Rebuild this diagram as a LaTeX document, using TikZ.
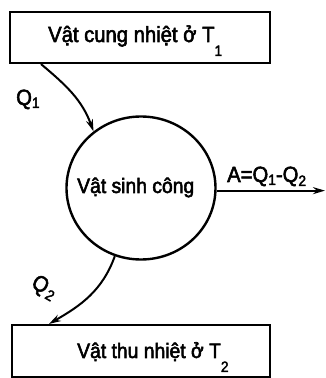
\documentclass[tikz,border=0pt]{standalone}
\usepackage{fontspec}
\setmainfont{Liberation Sans}[FakeStretch=0.92,FakeBold=2.5]
\usetikzlibrary{arrows.meta,shapes.geometric}
\newcommand{\sbx}[2][-14pt]{\raisebox{#1}{\fontsize{15}{15}\selectfont #2}}
\begin{document}
\begin{tikzpicture}[x=1pt,y=1pt]
\tikzset{
 boxst/.style={draw, line width=2.1pt, inner sep=0pt},
 txt/.style={font=\fontsize{22}{22}\selectfont, inner sep=0pt, anchor=base west},
 arr/.style={line width=2pt, -{Stealth[length=12pt,width=7pt]}},
}
\useasboundingbox (0,0) rectangle (325,378);
\node[boxst, minimum width=260pt, minimum height=51pt] (top) at (140,340.5) {};
\node[txt] (toptext) at (48,336) {Vật cung nhiệt ở T\sbx{1}};
\node[boxst, minimum width=258pt, minimum height=52pt] (bot) at (141,27) {};
\node[txt, font=\fontsize{21}{21}\selectfont] (bottext) at (77,20) {Vật thu nhiệt ở T\sbx{2}};
\node[draw, ellipse, line width=2.4pt, minimum width=149pt, minimum height=143pt, inner sep=0pt] (c) at (141,190) {};
\node[txt, font=\fontsize{21}{21}\selectfont] (ctext) at (77,185) {Vật sinh công};
\coordinate (q1s) at ([xshift=32pt]top.south west);
\coordinate (q2e) at ([xshift=38pt]bot.north west);
\coordinate (aend) at (325,0);
\draw[arr] (q1s) to[out=-40,in=110] (c.130);
\draw[arr] (c.-111) to[out=-110,in=30] (q2e);
\draw[arr] (c.-2.3) -- (c.-2.3 -| aend);
\node[txt] (q1) at (16,273) {Q\sbx[-3pt]{1}};
\node[txt] (alab) at (227,196) {A=Q\sbx[-3pt]{1}-Q\sbx[-4pt]{2}};
\node[font=\fontsize{22}{22}\selectfont, inner sep=0pt, rotate=-30] (q2) at (44,90) {Q\kern2pt\sbx[-3pt]{2}};
\end{tikzpicture}
\end{document}
